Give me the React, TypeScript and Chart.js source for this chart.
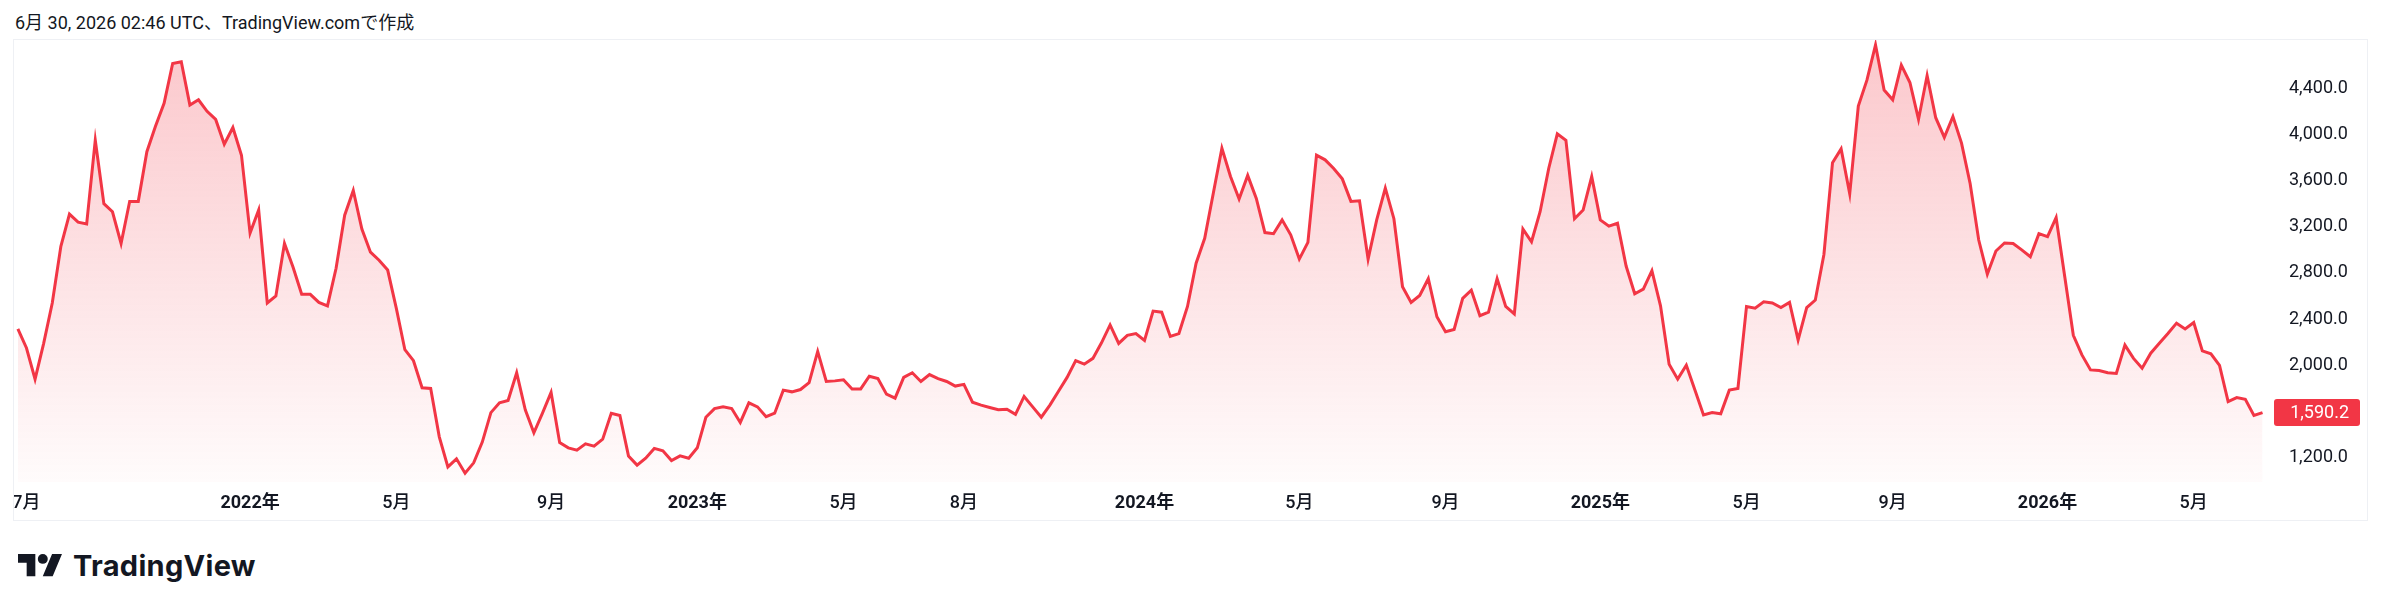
import React, { useEffect, useRef } from "react";
import { Chart, registerables } from "chart.js";

Chart.register(...registerables);

// Weekly bars starting on this Monday
const START_DATE = "2021-06-28";

const PRICES: number[] = [
  2315, 2150, 1880, 2190, 2540, 3030, 3310, 3240, 3225, 3950,
  3400, 3330, 3055, 3420, 3420, 3850, 4070, 4270, 4615, 4630,
  4255, 4300, 4200, 4130, 3915, 4060, 3820, 3145, 3345, 2540,
  2600, 3055, 2850, 2615, 2615, 2545, 2515, 2840, 3300, 3515,
  3180, 2980, 2910, 2825, 2495, 2135, 2040, 1805, 1800, 1380,
  1120, 1190, 1065, 1155, 1335, 1590, 1675, 1695, 1935, 1615,
  1415, 1585, 1765, 1330, 1285, 1265, 1320, 1300, 1360, 1585,
  1565, 1215, 1135, 1195, 1280, 1260, 1175, 1215, 1195, 1285,
  1550, 1625, 1640, 1625, 1505,
  1675, 1640, 1555, 1585, 1785, 1770, 1790, 1850, 2120, 1860,
  1865, 1875, 1795, 1795, 1905, 1885, 1750, 1715, 1895, 1935,
  1860, 1920, 1885, 1860, 1820, 1835, 1680, 1655, 1635, 1615,
  1620, 1575, 1730, 1640, 1550, 1655, 1775, 1895, 2040, 2010,
  2060, 2195, 2350, 2190, 2260, 2275, 2215, 2470, 2460, 2250,
  2275, 2510, 2885, 3100, 3490, 3880, 3635, 3440, 3645, 3445,
  3150, 3140, 3260, 3130, 2920, 3065, 3820, 3780, 3705, 3615,
  3420, 3425, 2920, 3260, 3535, 3270, 2680, 2545, 2605, 2750,
  2420, 2290, 2310, 2580, 2650, 2430, 2460, 2750,
  2510, 2445, 3180, 3070, 3330, 3705, 4005, 3950, 3270, 3345,
  3635, 3260, 3205, 3230, 2860, 2620, 2660, 2820, 2515, 2010,
  1880, 2000, 1785, 1570, 1590, 1580, 1785, 1800, 2510, 2495,
  2550, 2540, 2500, 2545, 2220, 2500, 2565, 2960, 3755, 3875,
  3485, 4245, 4470, 4775, 4385, 4300, 4600, 4450, 4130, 4510,
  4145, 3975, 4155, 3925, 3575, 3085, 2790, 2990, 3060, 3055,
  3000, 2940, 3140, 3115, 3280, 2770, 2260, 2090, 1960, 1955,
  1935, 1930, 2175, 2060, 1975, 2105, 2190, 2275, 2365, 2315,
  2370, 2125, 2100, 2000, 1685, 1720, 1705, 1565, 1590.2,
];

// First weekly bar of each labelled month
const X_TICK_DATES: string[] = [
  "2021-07-05", "2022-01-03", "2022-05-02", "2022-09-05", "2023-01-02",
  "2023-05-01", "2023-08-07", "2024-01-01", "2024-05-06", "2024-09-02",
  "2025-01-06", "2025-05-05", "2025-09-01", "2026-01-05", "2026-05-04",
];
const X_TICK_LABELS: string[] = [
  "7月", "2022年", "5月", "9月", "2023年",
  "5月", "8月", "2024年", "5月", "9月",
  "2025年", "5月", "9月", "2026年", "5月",
];
const Y_TICK_VALUES: number[] = [1200, 2000, 2400, 2800, 3200, 3600, 4000, 4400];

const HEADER_TEXT = "6月 30, 2026 02:46 UTC、TradingView.comで作成";
const BRAND_TEXT = "TradingView";

const FONT = 'Roboto, "Noto Sans CJK JP", sans-serif';
const RED = "#F23645";
const TEXT = "#131722";

const WEEK_MS = 7 * 86400000;
const weekIndex = (d: string) =>
  Math.round((Date.parse(d) - Date.parse(START_DATE)) / WEEK_MS);
const fmt = (v: number) =>
  v.toLocaleString("en-US", { minimumFractionDigits: 1, maximumFractionDigits: 1 });

const CANVAS_W = 2353;
const CANVAS_H = 480;

export default function App() {
  const ref = useRef<HTMLCanvasElement>(null);

  useEffect(() => {
    const canvas = ref.current;
    if (!canvas) return;
    const points = PRICES.map((y, i) => ({ x: i, y }));

    const lastPricePlugin = {
      id: "lastPrice",
      afterDraw(chart: any) {
        const { ctx, scales, chartArea } = chart;
        const v = PRICES[PRICES.length - 1];
        const y = scales.y.getPixelForValue(v);
        const x0 = chartArea.right - 1;
        const w = 86;
        const h = 27;
        ctx.save();
        ctx.fillStyle = RED;
        ctx.beginPath();
        (ctx as any).roundRect(x0, y - h / 2, w, h, 3);
        ctx.fill();
        ctx.fillStyle = "#ffffff";
        ctx.font = `18px ${FONT}`;
        ctx.textAlign = "right";
        ctx.textBaseline = "middle";
        ctx.fillText(fmt(v), x0 + 75, y + 1);
        ctx.restore();
      },
    };

    const chart = new Chart(canvas, {
      type: "line",
      data: {
        datasets: [
          {
            data: points,
            borderColor: RED,
            borderWidth: 3,
            pointRadius: 0,
            tension: 0,
            fill: "start",
            backgroundColor: (c: any) => {
              const { chart: ch } = c;
              const area = ch.chartArea;
              if (!area) return "rgba(242,54,69,0.15)";
              const g = ch.ctx.createLinearGradient(0, area.top, 0, area.bottom);
              g.addColorStop(0, "rgba(242,54,69,0.28)");
              g.addColorStop(1, "rgba(242,54,69,0.02)");
              return g;
            },
          },
        ],
      },
      options: {
        animation: false,
        responsive: false,
        maintainAspectRatio: false,
        layout: { padding: 0 },
        plugins: {
          legend: { display: false },
          tooltip: { enabled: false },
        },
        scales: {
          x: {
            type: "linear",
            min: -0.45,
            max: 262.45,
            grid: { display: false, drawTicks: false },
            border: { display: false },
            afterBuildTicks: (s: any) => {
              s.ticks = X_TICK_DATES.map((d) => ({ value: weekIndex(d) }));
            },
            afterFit: (s: any) => {
              s.height = 38;
              s.paddingLeft = 0;
              s.paddingRight = 0;
              s.paddingTop = 0;
              s.paddingBottom = 0;
            },
            ticks: {
              autoSkip: false,
              maxRotation: 0,
              minRotation: 0,
              padding: 11,
              color: TEXT,
              font: (c: any) => ({
                family: FONT,
                size: 18,
                weight: (X_TICK_LABELS[c.index] || "").includes("年") ? "bold" : "500",
              }),
              callback: (_v: any, i: number) => X_TICK_LABELS[i],
            },
          },
          y: {
            type: "linear",
            position: "right",
            min: 989,
            max: 4818,
            grid: { display: false, drawTicks: false },
            border: { display: false },
            afterBuildTicks: (s: any) => {
              s.ticks = Y_TICK_VALUES.map((v) => ({ value: v }));
            },
            afterFit: (s: any) => {
              s.width = 92;
              s.paddingLeft = 0;
              s.paddingRight = 0;
              s.paddingTop = 0;
              s.paddingBottom = 0;
            },
            ticks: {
              padding: 14,
              color: TEXT,
              font: { family: FONT, size: 18 },
              callback: (v: any) => fmt(Number(v)),
            },
          },
        },
      },
      plugins: [lastPricePlugin],
    } as any);

    return () => chart.destroy();
  }, []);

  return (
    <div
      style={{
        position: "fixed",
        left: 0,
        top: 0,
        width: 2382,
        height: 611,
        background: "#ffffff",
        overflow: "hidden",
        fontFamily: FONT,
        color: TEXT,
      }}
    >
      <div
        style={{
          position: "absolute",
          left: 15,
          top: 11,
          fontSize: 18,
          lineHeight: "24px",
          whiteSpace: "nowrap",
          color: TEXT,
        }}
      >
        {HEADER_TEXT}
      </div>
      <div
        style={{
          position: "absolute",
          left: 13,
          top: 39,
          width: CANVAS_W + 2,
          height: CANVAS_H + 2,
          boxSizing: "border-box",
          border: "1px solid #eef0f4",
        }}
      />
      <canvas
        ref={ref}
        width={CANVAS_W}
        height={CANVAS_H}
        style={{
          position: "absolute",
          left: 14,
          top: 40,
          width: CANVAS_W,
          height: CANVAS_H,
        }}
      />
      <svg
        style={{ position: "absolute", left: 18, top: 549 }}
        width={44.6}
        height={34.7}
        viewBox="0 0 36 28"
      >
        <path d="M14 22H7V11H0V4h14v18zM28 22h-8l7.5-18h8L28 22z" fill={TEXT} />
        <circle cx="20" cy="8" r="4" fill={TEXT} />
      </svg>
      <div
        style={{
          position: "absolute",
          left: 73,
          top: 551,
          fontFamily: "Inter, Roboto, sans-serif",
          fontWeight: 700,
          fontSize: 29,
          lineHeight: "29px",
          letterSpacing: 0.3,
          color: TEXT,
          whiteSpace: "nowrap",
        }}
      >
        {BRAND_TEXT}
      </div>
    </div>
  );
}
